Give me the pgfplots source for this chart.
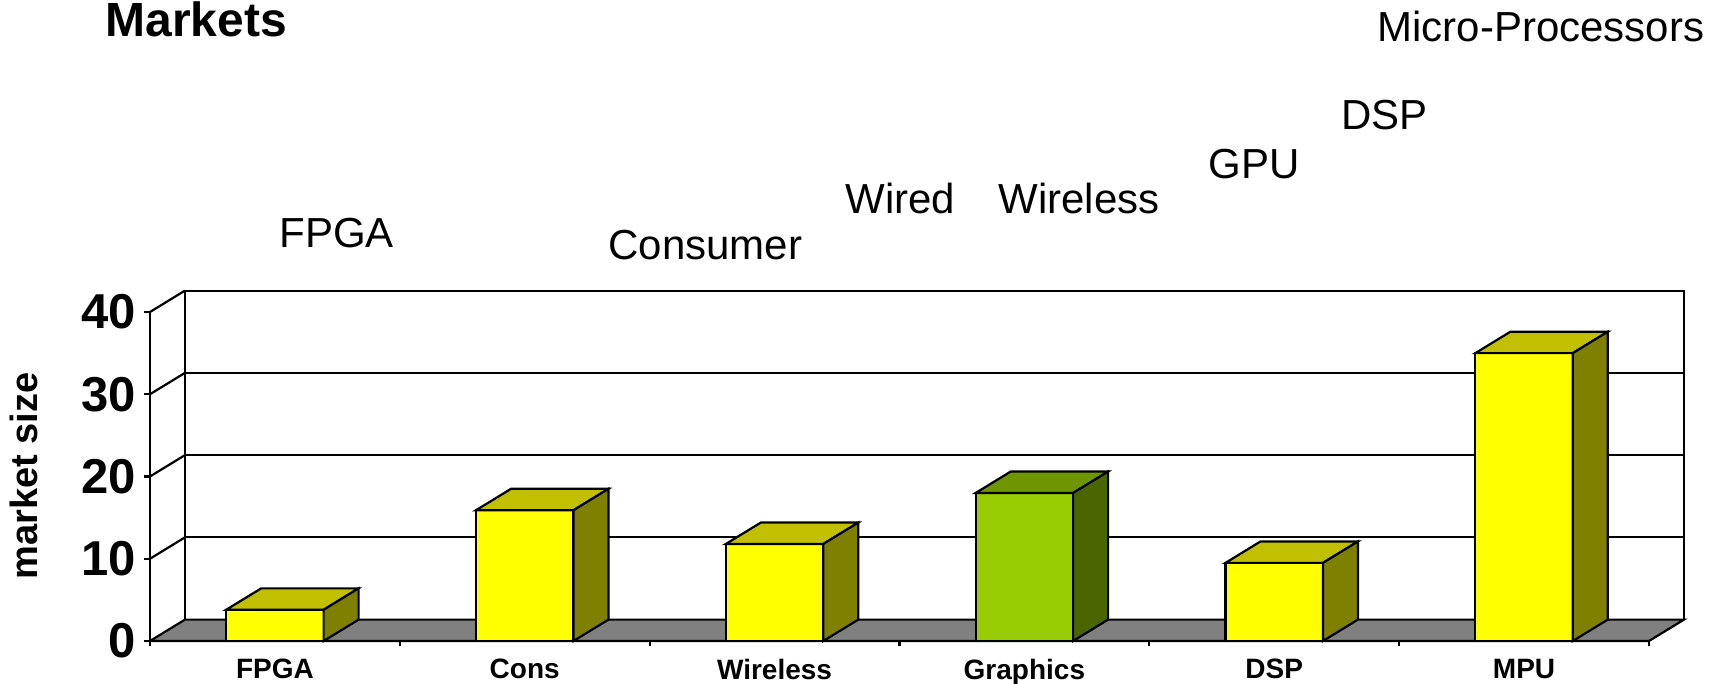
\documentclass[border=0pt]{standalone}
\usepackage{fontspec}
\setmainfont{Liberation Sans}
\usepackage{pgfplots}
\usepackage{pgfplotstable}
\pgfplotsset{compat=1.18}

\definecolor{yelfront}{HTML}{FFFF00}
\definecolor{yeltop}{HTML}{C0C000}
\definecolor{yelside}{HTML}{808000}
\definecolor{grnfront}{HTML}{99CC00}
\definecolor{grntop}{HTML}{6F9600}
\definecolor{grnside}{HTML}{4B6600}
\definecolor{floorgray}{HTML}{808080}

% market size per category (bar centre, value, colour scheme)
\pgfplotstableread{
x   y    c
0.5 3.8  yel
1.5 15.9 yel
2.5 11.8 yel
3.5 18.0 grn
4.5 9.5  yel
5.5 35.0 yel
}\marketdata

\begin{document}
\begin{tikzpicture}
\begin{axis}[
  at={(0pt,0pt)}, anchor=south west,
  scale only axis, width=749.5pt, height=164.5pt,
  xmin=0, xmax=6, ymin=0, ymax=40,
  clip=false,
  axis x line*=bottom, axis y line*=left,
  axis line style={line width=1.1pt, -},
  tick style={black, line width=1.1pt},
  tick align=outside,
  major tick length=2.75pt,
  ytick={0,10,20,30,40},
  xtick={0,1,2,3,4,5,6},
  xticklabels={FPGA,Cons,Wireless,Graphics,DSP,MPU,{}},
  xticklabel style={font=\fontsize{14}{14}\selectfont\bfseries, anchor=north, inner sep=0pt, xshift=62.45pt, yshift=-6pt},
  yticklabel style={font=\fontsize{24.5}{24.5}\selectfont\bfseries, anchor=east, inner sep=0pt, xshift=-4pt},
  /pgf/number format/assume math mode=true,
]
% back wall outline
\addplot[draw=black, line width=1.1pt] coordinates {(0.14,2.6) (0.14,42.6) (6.14,42.6) (6.14,2.6)};
% back wall grid lines
\addplot[draw=black, line width=1.1pt] coordinates {(0.14,12.6) (6.14,12.6)};
\addplot[draw=black, line width=1.1pt] coordinates {(0.14,22.6) (6.14,22.6)};
\addplot[draw=black, line width=1.1pt] coordinates {(0.14,32.6) (6.14,32.6)};
% side wall diagonals
\addplot[draw=black, line width=1.1pt] coordinates {(0,10) (0.14,12.6)};
\addplot[draw=black, line width=1.1pt] coordinates {(0,20) (0.14,22.6)};
\addplot[draw=black, line width=1.1pt] coordinates {(0,30) (0.14,32.6)};
\addplot[draw=black, line width=1.1pt] coordinates {(0,40) (0.14,42.6)};
% floor
\addplot[draw=black, line width=1.1pt, fill=floorgray] coordinates {(0,0) (6,0) (6.14,2.6) (0.14,2.6)} -- cycle;
% 3D bars
\pgfplotsforeachungrouped \i in {0,...,5}{%
  \pgfplotstablegetelem{\i}{x}\of\marketdata \let\bx\pgfplotsretval
  \pgfplotstablegetelem{\i}{y}\of\marketdata \let\by\pgfplotsretval
  \pgfplotstablegetelem{\i}{c}\of\marketdata \let\bc\pgfplotsretval
  \pgfmathsetmacro\xl{\bx-0.195}%
  \pgfmathsetmacro\xr{\bx+0.195}%
  \pgfmathsetmacro\xlb{\bx-0.195+0.14}%
  \pgfmathsetmacro\xrb{\bx+0.195+0.14}%
  \pgfmathsetmacro\yt{\by+2.6}%
  \edef\temp{%
    \noexpand\addplot[draw=black, line width=1.1pt, fill=\bc front] coordinates {(\xl,0) (\xr,0) (\xr,\by) (\xl,\by)} -- cycle;
    \noexpand\addplot[draw=black, line width=1.1pt, fill=\bc top] coordinates {(\xl,\by) (\xr,\by) (\xrb,\yt) (\xlb,\yt)} -- cycle;
    \noexpand\addplot[draw=black, line width=1.1pt, fill=\bc side] coordinates {(\xr,0) (\xrb,2.6) (\xrb,\yt) (\xr,\by)} -- cycle;
  }\temp
}
\end{axis}
% y label
\node[rotate=90, anchor=base, font=\fontsize{19}{19}\selectfont\bfseries] at (-56pt,82.5pt) {market size};
% title and annotations
\node[anchor=base west, inner sep=0pt, font=\fontsize{24}{24}\selectfont\bfseries] at (-22.5pt,302pt) {Markets};
\node[anchor=base west, inner sep=0pt, font=\fontsize{21}{21}\selectfont] at (64.5pt,196.5pt) {FPGA};
\node[anchor=base west, inner sep=0pt, font=\fontsize{21}{21}\selectfont] at (229pt,190.5pt) {Consumer};
\node[anchor=base west, inner sep=0pt, font=\fontsize{21}{21}\selectfont] at (347.5pt,213.5pt) {Wired};
\node[anchor=base west, inner sep=0pt, font=\fontsize{21}{21}\selectfont] at (424pt,213.5pt) {Wireless};
\node[anchor=base west, inner sep=0pt, font=\fontsize{21}{21}\selectfont] at (529pt,231pt) {GPU};
\node[anchor=base west, inner sep=0pt, font=\fontsize{21}{21}\selectfont] at (595.5pt,255.5pt) {DSP};
\node[anchor=base west, inner sep=0pt, font=\fontsize{21}{21}\selectfont] at (613.5pt,299.5pt) {Micro-Processors};
\pgfresetboundingbox
\path[use as bounding box] (-75pt,-21.5pt) rectangle (785pt,320.5pt);
\end{tikzpicture}
\end{document}
